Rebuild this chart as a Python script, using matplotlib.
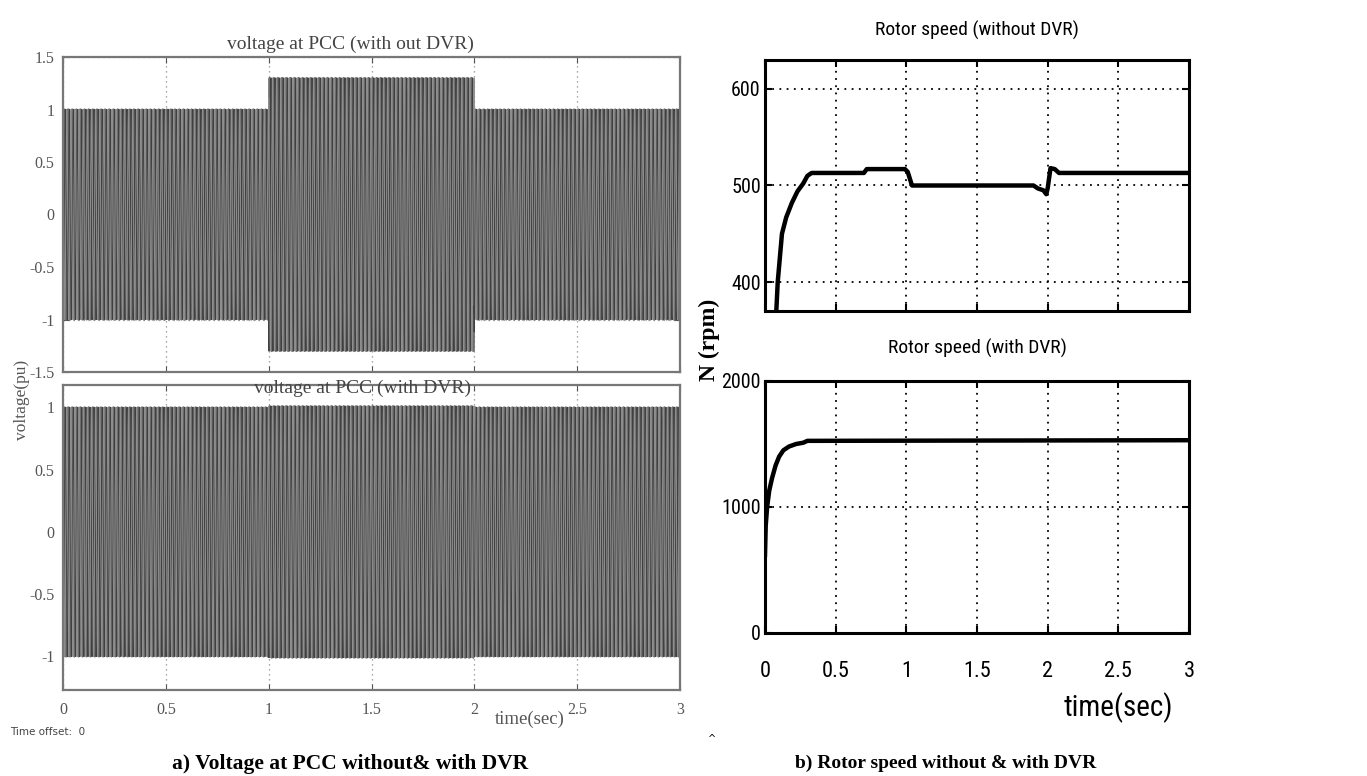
import numpy as np
import matplotlib
matplotlib.use("Agg")
import matplotlib.pyplot as plt
from matplotlib import font_manager as fm

# ---- data ----
# Voltage at PCC: per-unit amplitude of the three-phase supply over each interval
seg_edges = [0.0, 1.0, 2.0, 3.0]
amp_without_dvr = [1.0, 1.3, 1.0]
amp_with_dvr = [1.0, 1.01, 1.0]
supply_freq = 50.0          # Hz
phase_shifts_deg = [0, -120, 120]

volt_xticks = [0, 0.5, 1, 1.5, 2, 2.5, 3]
volt_xticklabels = ["0", "0.5", "1", "1.5", "2", "2.5", "3"]
volt_top_yticks = [-1.5, -1, -0.5, 0, 0.5, 1, 1.5]
volt_top_yticklabels = ["-1.5", "-1", "-0.5", "0", "0.5", "1", "1.5"]
volt_bot_yticks = [-1, -0.5, 0, 0.5, 1]
volt_bot_yticklabels = ["-1", "-0.5", "0", "0.5", "1"]

# Rotor speed (rpm) without DVR
t_speed_wo = [0.0, 0.07, 0.09, 0.12, 0.15, 0.19, 0.23, 0.27, 0.30, 0.33,
              0.70, 0.72, 0.99, 1.01, 1.04, 1.90, 1.93, 1.97, 1.99, 2.00,
              2.02, 2.05, 2.08, 3.0]
n_speed_wo = [250, 340, 400, 450, 467, 482, 494, 502, 510, 513,
              513, 517, 517, 514, 500, 500, 497, 495, 491, 497,
              518, 517, 513, 513]

# Rotor speed (rpm) with DVR
t_speed_w = [0.0, 0.005, 0.015, 0.03, 0.05, 0.075, 0.10, 0.13, 0.17,
             0.22, 0.27, 0.30, 3.0]
n_speed_w = [620, 850, 1000, 1130, 1230, 1330, 1400, 1450, 1480,
             1500, 1510, 1525, 1530]

speed_xticks = [0, 0.5, 1, 1.5, 2, 2.5, 3]
speed_xticklabels = ["0", "0.5", "1", "1.5", "2", "2.5", "3"]
speed_top_yticks = [400, 500, 600]
speed_bot_yticks = [0, 1000, 2000]


# ---- fonts ----
def pick_narrow_font():
    entries = fm.fontManager.ttflist
    names = {f.name for f in entries}
    for n in ["Liberation Sans Narrow", "Arial Narrow", "Roboto Condensed",
              "Open Sans Condensed", "Noto Sans Condensed",
              "DejaVu Sans Condensed"]:
        if n in names:
            return {"family": [n, "DejaVu Sans"]}, True
    for f in entries:
        if ("Narrow" in f.name or "Condensed" in f.name) and "Serif" not in f.name:
            return {"family": [f.name, "DejaVu Sans"]}, True
    for f in entries:
        if f.name == "DejaVu Sans" and str(f.stretch) in ("condensed", "semi-condensed"):
            return {"family": ["DejaVu Sans"], "stretch": f.stretch}, True
    return {"family": ["Liberation Sans", "DejaVu Sans"]}, False


narrow, is_narrow = pick_narrow_font()
xtick_fs = 16 if is_narrow else 13
ytick_fs = 14.5 if is_narrow else 12
title_fs = 14 if is_narrow else 12
xlabel_fs = 21 if is_narrow else 18

serif = ["Liberation Serif", "DejaVu Serif"]
grey = "#555555"

# ---- figure ----
W, H = 1367, 776
fig = plt.figure(figsize=(W / 100, H / 100), dpi=100)


def fig_rect(x0, y0, x1, y1):
    return [x0 / W, 1 - y1 / H, (x1 - x0) / W, (y1 - y0) / H]


def three_phase(amps):
    t = np.linspace(seg_edges[0], seg_edges[-1], 40001)
    a = np.zeros_like(t)
    for lo, hi, v in zip(seg_edges[:-1], seg_edges[1:], amps):
        a[(t >= lo) & (t <= hi)] = v
    waves = [a * np.sin(2 * np.pi * supply_freq * t + np.deg2rad(p))
             for p in phase_shifts_deg]
    return t, waves


def style_volt_axes(ax, yticks, ylabels, ylim):
    ax.set_xlim(0, 3)
    ax.set_ylim(*ylim)
    ax.set_xticks(volt_xticks)
    ax.set_yticks(yticks)
    ax.set_yticklabels(ylabels, family=serif, fontsize=11.5, color=grey)
    ax.tick_params(direction="in", length=4, color=grey, top=True,
                   right=True, pad=6)
    ax.grid(True, linestyle=(0, (1, 3)), color="#888888", linewidth=0.9)
    for s in ax.spines.values():
        s.set_color("#777777")
        s.set_linewidth(1.6)


wave_colors = ["#6e6e6e", "#404040", "#8e8e8e"]
wave_widths = [1.6, 0.9, 0.7]


def draw_waves(ax, amps):
    t, waves = three_phase(amps)
    for w, c, lw in zip(waves, wave_colors, wave_widths):
        ax.plot(t, w, color=c, linewidth=lw)


ax1 = fig.add_axes(fig_rect(63, 57, 680, 372))
draw_waves(ax1, amp_without_dvr)
style_volt_axes(ax1, volt_top_yticks, volt_top_yticklabels, (-1.5, 1.5))
ax1.set_xticklabels([])
fig.text(350 / W, 1 - 44 / H, "voltage at PCC (with out DVR)", family=serif,
         fontsize=14, color="#444444", ha="center", va="center")

ax2 = fig.add_axes(fig_rect(63, 385, 680, 690))
draw_waves(ax2, amp_with_dvr)
style_volt_axes(ax2, volt_bot_yticks, volt_bot_yticklabels, (-1.27, 1.18))
ax2.set_xticklabels(volt_xticklabels, family=serif, fontsize=11.5, color=grey)
ax2.tick_params(axis="x", pad=9)
fig.text(362 / W, 1 - 388 / H, "voltage at PCC (with DVR)", family=serif,
         fontsize=14, color="#444444", ha="center", va="center")

fig.text(22 / W, 1 - 400 / H, "voltage(pu)", family=serif, fontsize=12.5,
         color=grey, rotation=90, ha="center", va="center")
fig.text(530 / W, 1 - 719 / H, "time(sec)", family=serif, fontsize=13.5,
         color=grey, ha="center", va="center")
fig.text(10 / W, 1 - 732 / H, "Time offset:  0", family=["DejaVu Sans"],
         fontsize=7.5, color="#444444", ha="left", va="center")


def style_speed_axes(ax, yticks, ylim):
    ax.set_xlim(0, 3)
    ax.set_ylim(*ylim)
    ax.set_xticks(speed_xticks)
    ax.set_yticks(yticks)
    ax.set_yticklabels([str(v) for v in yticks], fontsize=ytick_fs, **narrow)
    ax.tick_params(direction="in", length=5, width=1.5, top=True,
                   right=True, pad=3)
    ax.grid(True, linestyle=(0, (1, 3)), color="black", linewidth=1.3)
    for s in ax.spines.values():
        s.set_color("black")
        s.set_linewidth(2.2)


ax3 = fig.add_axes(fig_rect(765, 60, 1189, 311))
ax3.plot(t_speed_wo, n_speed_wo, color="black", linewidth=3.2)
style_speed_axes(ax3, speed_top_yticks, (370, 630))
ax3.set_xticklabels([])
fig.text(977 / W, 1 - 30 / H, "Rotor speed (without DVR)", fontsize=title_fs,
         ha="center", va="center", **narrow)

ax4 = fig.add_axes(fig_rect(765, 381, 1189, 633))
ax4.plot(t_speed_w, n_speed_w, color="black", linewidth=3.2)
style_speed_axes(ax4, speed_bot_yticks, (0, 2000))
ax4.set_xticklabels(speed_xticklabels, fontsize=xtick_fs, **narrow)
ax4.tick_params(axis="x", pad=20)
fig.text(977 / W, 1 - 348 / H, "Rotor speed (with DVR)", fontsize=title_fs,
         ha="center", va="center", **narrow)

fig.text(709 / W, 1 - 340 / H, "N (rpm)", family=serif, fontsize=17,
         fontweight="bold", rotation=90, ha="center", va="center")
fig.text(1118 / W, 1 - 708 / H, "time(sec)", fontsize=xlabel_fs,
         ha="center", va="center", **narrow)
fig.text(712 / W, 1 - 739 / H, "^", family=["DejaVu Sans"], fontsize=7,
         ha="center", va="center")

# Captions
fig.text(350 / W, 1 - 764 / H, "a) Voltage at PCC without& with DVR",
         family=serif, fontsize=15.5, fontweight="bold", ha="center",
         va="center")
fig.text(946 / W, 1 - 763 / H, "b) Rotor speed without & with DVR",
         family=serif, fontsize=14, fontweight="bold", ha="center",
         va="center")

fig.savefig("out.png", dpi=100)
